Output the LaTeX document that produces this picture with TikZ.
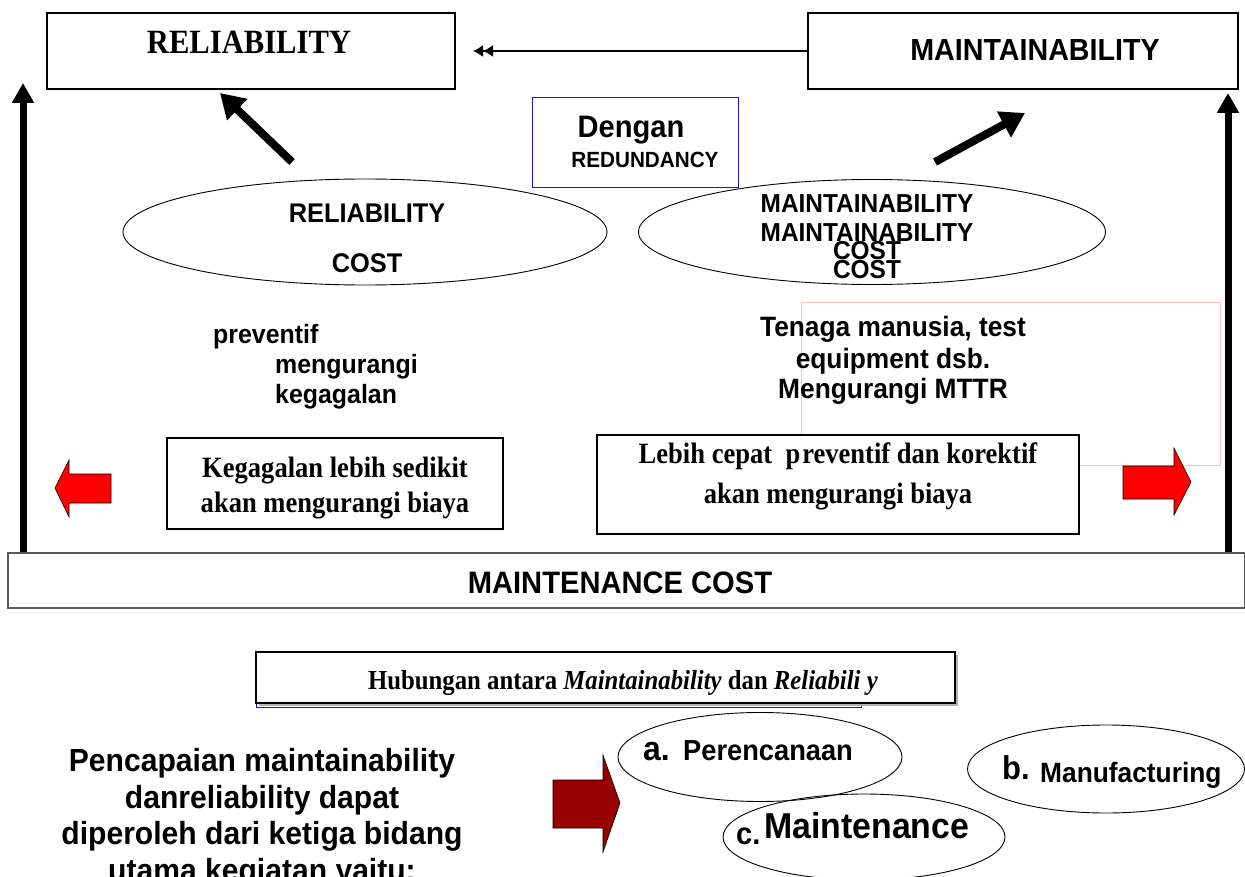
\documentclass[tikz,border=0pt]{standalone}
\usepackage{fontspec}
\setmainfont{Liberation Serif}[FakeStretch=0.9]
\setsansfont{Liberation Sans}[FakeStretch=0.94]
\usetikzlibrary{shapes.geometric,arrows.meta}
\definecolor{pinkline}{RGB}{255,190,190}
\definecolor{darkred}{RGB}{153,0,0}
\definecolor{boxblue}{RGB}{20,20,210}
\tikzset{
  sans/.style={font=\sffamily\bfseries\fontsize{#1}{#1}\selectfont, anchor=base, inner sep=0pt},
  serif/.style={font=\rmfamily\bfseries\fontsize{#1}{#1}\selectfont, anchor=base, inner sep=0pt}
}

\begin{document}
\begin{tikzpicture}[x=1pt,y=-1pt]
\tikzstyle{box}=[draw, line width=1.3pt, fill=white, inner sep=0pt]
\tikzstyle{oval}=[draw, ellipse, line width=0.9pt, inner sep=0pt]
\tikzstyle{fat}=[line width=7pt, -{Triangle[length=20pt,width=21pt]}]
\tikzstyle{redarrow}=[draw=black, line width=0.6pt, fill=red]
\useasboundingbox (0,0) rectangle (1245,877);

% top boxes
\node[box, minimum width=408, minimum height=76] (rel) at (251,51) {};
\node[serif=34] (reltxt) at (249,54) {RELIABILITY};
\node[box, minimum width=430, minimum height=76] (mnt) at (1023,51) {};
\node[sans=30.5] (mnttxt) at (1035,61) {MAINTAINABILITY};
\coordinate (dtip) at (473,51);
\draw[line width=1.5pt, -{Latex[length=10pt,width=12pt]Latex[length=10pt,width=12pt]}] (mnt.west) -- (dtip);

\node[draw=boxblue, line width=0.8pt, minimum width=206, minimum height=90] (red) at (635,142) {};
\node[sans=31] (redtxt1) at (631,138) {Dengan};
\node[sans=22] (redtxt2) at (645,168) {REDUNDANCY};

% thick arrows
\coordinate (lbot) at (23,553);  \coordinate (ltop) at (23,83);
\coordinate (rbot) at (1228,553); \coordinate (rtop) at (1228,93);
\coordinate (dla) at (292,162);  \coordinate (dlb) at (220,93);
\coordinate (dra) at (935,162);  \coordinate (drb) at (1025,113);
\foreach \from/\to in {lbot/ltop,rbot/rtop}
  \draw[fat] (\from) -- (\to);
\foreach \from/\to in {dla/dlb,dra/drb}
  \draw[fat, line width=8pt, -{Triangle[length=24pt,width=28pt]}] (\from) -- (\to);

% cost ellipses
\node[oval, minimum width=484, minimum height=106] (relcost) at (365,232) {};
\node[sans=27] (rc1) at (367,223) {RELIABILITY};
\node[sans=27] (rc2) at (367,273) {COST};
\node[oval, minimum width=467, minimum height=105] (mntcost) at (872,232) {};
\node[sans=26] (mc1) at (867,213) {MAINTAINABILITY};
\node[sans=26] (mc2) at (867,242) {MAINTAINABILITY};
\node[sans=26] (mc3) at (867,260) {COST};
\node[sans=26] (mc4) at (867,279) {COST};

% middle texts
\node[sans=26.5, anchor=base west] (pv1) at (213,343) {preventif};
\node[sans=26.5, anchor=base west] (pv2) at (275,373) {mengurangi};
\node[sans=26.5, anchor=base west] (pv3) at (275,403) {kegagalan};
\draw[pinkline, line width=0.6pt] (801,302) rectangle (1220,465);
\node[sans=28] (tg1) at (893,337) {Tenaga manusia, test};
\node[sans=28] (tg2) at (893,368) {equipment dsb.};
\node[sans=28] (tg3) at (893,398) {Mengurangi MTTR};

% lower boxes
\node[box, minimum width=336, minimum height=91] (keg) at (335,483.5) {};
\node[serif=29.5] (keg1) at (335,477) {Kegagalan lebih sedikit};
\node[serif=29.5] (keg2) at (335,512) {akan mengurangi biaya};
\node[box, minimum width=482, minimum height=99] (leb) at (838,484.5) {};
\node[serif=29.5] (leb1) at (838,463) {Lebih cepat\ \ p\kern2pt reventif dan korektif};
\node[serif=29.5] (leb2) at (838,503) {akan mengurangi biaya};
\draw[redarrow] (55,488) -- (69,460) -- (69,474) -- (111,474) -- (111,503) -- (69,503) -- (69,517) -- cycle;
\draw[redarrow] (1191,482) -- (1174,448) -- (1174,466) -- (1123,466) -- (1123,499) -- (1174,499) -- (1174,515) -- cycle;

\node[draw=gray!70!black, line width=1.2pt, fill=white, minimum width=1237, minimum height=55] (cost) at (626.5,580.5) {};
\node[sans=31] (costtxt) at (620,593) {MAINTENANCE COST};

% caption
\draw[boxblue, line width=1pt] (256,652) rectangle (861,707);
\fill[gray!60] (259,655) rectangle (958,706);
\node[box, line width=1.2pt, minimum width=699, minimum height=51] (cap) at (605.5,677.5) {};
\node[serif=27.5] (captxt) at (623,689) {Hubungan antara \textit{Maintainability} dan \textit{Reliabili\ y}};

% bottom part
\foreach \txt [count=\i] in {Pencapaian maintainability, danreliability dapat, diperoleh dari ketiga bidang, utama kegiatan yaitu:}
  \node[sans=32] (pc\i) at (262,735+36.5*\i) {\txt};
\draw[redarrow, fill=darkred] (620,803) -- (603,755) -- (603,780) -- (553,780) -- (553,828) -- (603,828) -- (603,852) -- cycle;
\node[oval, minimum width=284, minimum height=89] (pa) at (760,757) {};
\node[sans=34, anchor=base west] (pa1) at (643,760) {a.};
\node[sans=29, anchor=base west] (pa2) at (683,760) {Perencanaan};
\node[oval, minimum width=277, minimum height=88] (pb) at (1106,769) {};
\node[sans=33, anchor=base west] (pb1) at (1002,779) {b.};
\node[sans=28, anchor=base west] (pb2) at (1040,782) {Manufacturing};
\node[oval, minimum width=282, minimum height=86] (pcc) at (864,837) {};
\node[sans=31, anchor=base west] (pc1x) at (736,844) {c.};
\node[sans=36, anchor=base west] (pc2x) at (764,838) {Maintenance};
\end{tikzpicture}
\end{document}
